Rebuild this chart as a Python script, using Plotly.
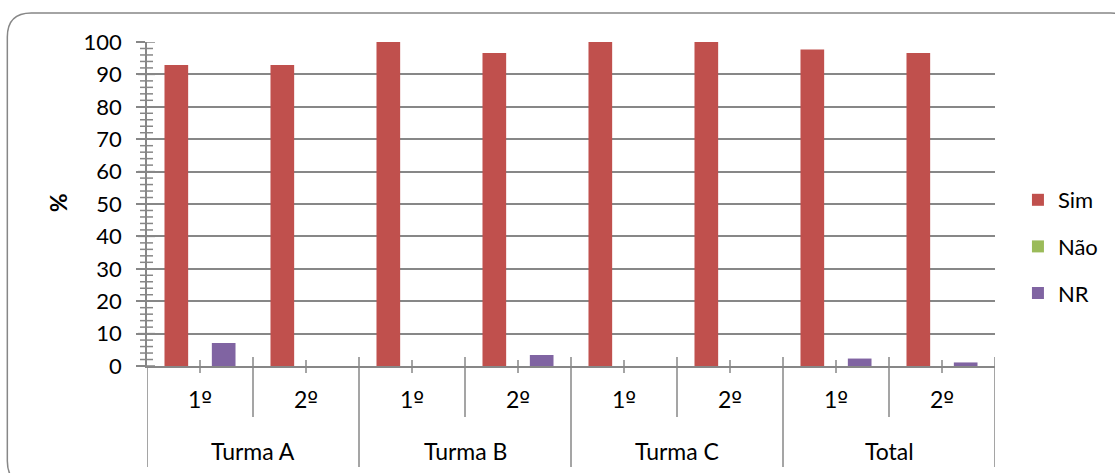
import plotly.graph_objects as go

# Survey results (%) per class and semester
grupos = ["Turma A", "Turma B", "Turma C", "Total"]
semestres = ["1º", "2º"]
categorias = [f"{g} {s}" for g in grupos for s in semestres]

sim = [92.9, 92.9, 100, 96.6, 100, 100, 97.7, 96.6]
nao = [0, 0, 0, 0, 0, 0, 0, 0]
nr = [7.1, 0, 0, 3.4, 0, 0, 2.3, 1.1]

y_ticks = list(range(0, 101, 10))

FONT = "Lato"
GRAY = "#878787"

# plot area in pixels
W, H = 1115, 473
L, R, T, B = 147, 118, 42, 107
PW, PH = W - L - R, H - T - B


def px(xp):
    return (xp - L) / PW


def py(yp):
    return (H - B - yp) / PH


def ordinal(s):
    # underlined ordinal indicator comes from DejaVu Sans
    return s.replace("º", '<span style="font-family:DejaVu Sans;font-size:23px">º</span>')


fig = go.Figure()
for nome, vals, cor in [("Sim", sim, "#C0504D"), ("Não", nao, "#9BBB59"), ("NR", nr, "#8064A2")]:
    fig.add_trace(go.Bar(
        x=categorias, y=vals, name=nome, legendgroup=nome,
        marker=dict(color=cor, line=dict(width=0)),
    ))

shapes = []
# y-axis tick marks crossing the axis line
for v in range(0, 101, 2):
    major = v % 10 == 0
    shapes.append(dict(
        type="line", xref="paper", yref="y", xsizemode="pixel", xanchor=0,
        x0=-9 if major else -7, x1=8 if major else 6, y0=v, y1=v,
        line=dict(color=GRAY, width=1.5), layer="above",
    ))
# x-axis tick marks at category centres
for i in range(len(categorias)):
    shapes.append(dict(
        type="line", xref="x", yref="paper", ysizemode="pixel", yanchor=0,
        x0=i, x1=i, y0=-7, y1=6, line=dict(color=GRAY, width=1.5), layer="above",
    ))
# dividers between categories and between groups
for i in range(len(categorias) + 1):
    b = i - 0.5
    is_group = i % 2 == 0
    shapes.append(dict(
        type="line", xref="x", yref="paper", ysizemode="pixel", yanchor=0,
        x0=b, x1=b, y0=-101 if is_group else -51, y1=9 if i > 0 else 0,
        line=dict(color=GRAY, width=1.5), layer="above",
    ))

# rounded chart border
bl, bt, br, bb, r = 7, 13, 1137, 485, 24
path = (
    f"M {px(bl + r)},{py(bt)} L {px(br - r)},{py(bt)} "
    f"Q {px(br)},{py(bt)} {px(br)},{py(bt + r)} "
    f"L {px(br)},{py(bb - r)} Q {px(br)},{py(bb)} {px(br - r)},{py(bb)} "
    f"L {px(bl + r)},{py(bb)} Q {px(bl)},{py(bb)} {px(bl)},{py(bb - r)} "
    f"L {px(bl)},{py(bt + r)} Q {px(bl)},{py(bt)} {px(bl + r)},{py(bt)} Z"
)
shapes.append(dict(type="path", xref="paper", yref="paper", path=path,
                   line=dict(color=GRAY, width=1.5)))

annotations = []
for i, c in enumerate(categorias):
    annotations.append(dict(
        x=i, xref="x", y=py(399), yref="paper", text=ordinal(c.split(" ")[-1]),
        showarrow=False, xanchor="center", yanchor="middle",
        font=dict(family=FONT, size=23, color="#000000"),
    ))
for k, g in enumerate(grupos):
    annotations.append(dict(
        x=2 * k + 0.5, xref="x", y=py(451), yref="paper", text=g,
        showarrow=False, xanchor="center", yanchor="middle",
        font=dict(family=FONT, size=23, color="#000000"),
    ))
annotations.append(dict(
    x=px(58), xref="paper", y=py(203), yref="paper", text="<b>%</b>",
    textangle=-90, showarrow=False, xanchor="center", yanchor="middle",
    font=dict(family=FONT, size=23, color="#000000"),
))

fig.update_layout(
    width=W, height=H,
    margin=dict(l=L, r=R, t=T, b=B, pad=0),
    paper_bgcolor="white", plot_bgcolor="white",
    barmode="group", bargap=0.33, bargroupgap=0,
    font=dict(family=FONT, size=22, color="#000000"),
    xaxis=dict(
        type="category", categoryorder="array", categoryarray=categorias,
        range=[-0.5, len(categorias) - 0.5], showticklabels=False, ticks="",
        showgrid=False, showline=True, linecolor=GRAY, linewidth=1.5, zeroline=False,
    ),
    yaxis=dict(
        range=[0, 100], tickvals=y_ticks, ticks="outside", ticklen=9,
        tickcolor=GRAY, tickwidth=1.5, ticklabelstandoff=10,
        showgrid=True, gridcolor=GRAY, gridwidth=1.5,
        showline=True, linecolor=GRAY, linewidth=1.5, zeroline=False,
        tickfont=dict(family=FONT, size=22),
    ),
    legend=dict(
        x=px(1020), xanchor="left", y=py(179), yanchor="top",
        tracegroupgap=15, itemwidth=30, bgcolor="rgba(0,0,0,0)",
        font=dict(family=FONT, size=22),
    ),
    shapes=shapes, annotations=annotations,
)

fig.write_html("out.html")
